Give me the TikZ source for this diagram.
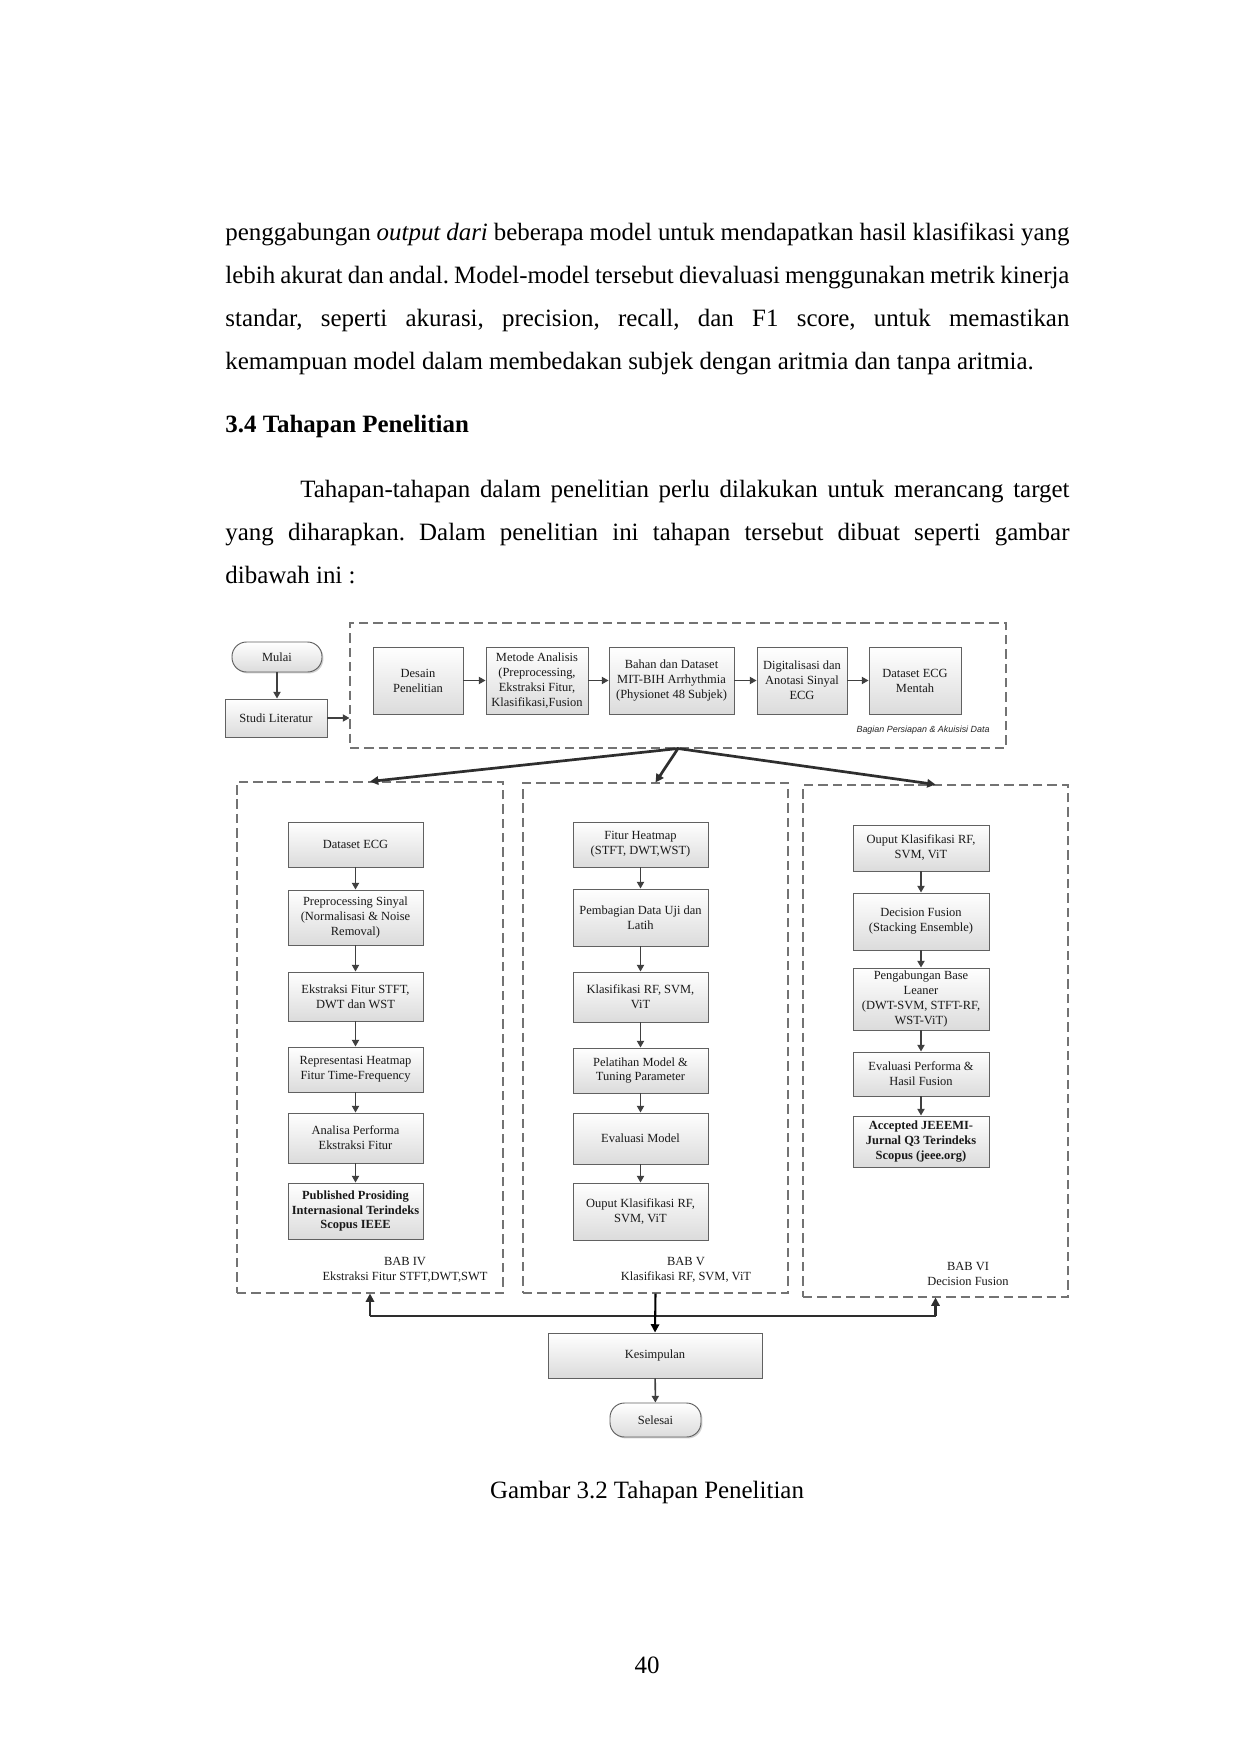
\documentclass[tikz,border=0pt]{standalone}
\usepackage{fontspec}
\setmainfont{Liberation Serif}
\newfontfamily\lblfont{Liberation Sans}
\usetikzlibrary{arrows.meta,shadows}
\frenchspacing
\newdimen\px \px=0.169218mm
\newcommand\pbox[7]{\node[#1, minimum width={(#5-#3)*\px}, minimum height={(#6-#4)*\px}] (#2) at ({(#3+#5)/2},{(#4+#6)/2}) {#7};}
\tikzset{
  stepbox/.style={draw=black!62, line width=0.45pt, top color=white, bottom color=black!14,
    drop shadow={shadow xshift=0.7pt, shadow yshift=-0.7pt, opacity=0.25, fill=black!70},
    align=center, inner sep=1pt, font=\fontsize{6}{7.2}\selectfont, text=black!90},
  termbox/.style={stepbox, rounded corners=7pt},
  cont/.style={draw=black!55, line width=0.5pt, dash pattern=on 4.5pt off 2.4pt, inner sep=0},
  arr/.style={draw=black!75, line width=0.75pt, -{Triangle[length=3.2pt,width=3.4pt]}},
  fan/.style={draw=black!82, line width=1.3pt, -{Triangle[length=4pt,width=4pt]}},
  body/.style={font=\fontsize{12}{14}\selectfont, inner sep=0, anchor=base west},
  lbl/.style={font=\fontsize{6}{7.2}\selectfont, align=center, inner sep=0, text=black!90},
}
\begin{document}
\begin{tikzpicture}[x=0.169218mm, y=-0.169218mm]
\fill[white] (0,0) rectangle (1241,1754);
\useasboundingbox (0,0) rectangle (1241,1754);

% body text
\node[body] (t1) at (225,240.5) {\makebox[844\px][s]{penggabungan \textit{output dari} beberapa model untuk mendapatkan hasil klasifikasi yang}};
\node[body] (t2) at (225,283.5) {\makebox[844\px][s]{lebih akurat dan andal. Model-model tersebut dievaluasi menggunakan metrik kinerja}};
\node[body] (t3) at (225,326.5) {\makebox[844\px][s]{standar, seperti akurasi, precision, recall, dan F1 score, untuk memastikan}};
\node[body] (t4) at (225,369.5) {kemampuan model dalam membedakan subjek dengan aritmia dan tanpa aritmia.};
\node[body] (h1) at (225,433) {\textbf{3.4 Tahapan Penelitian}};
\node[body] (t5) at (300,497) {\makebox[769\px][s]{Tahapan-tahapan dalam penelitian perlu dilakukan untuk merancang target}};
\node[body] (t6) at (225,540) {\makebox[844\px][s]{yang diharapkan. Dalam penelitian ini tahapan tersebut dibuat seperti gambar}};
\node[body] (t7) at (225,583) {dibawah ini :};

% containers
\pbox{cont}{top}{350}{623}{1006}{748}{}
\pbox{cont}{cL}{237}{782}{503}{1293}{}
\pbox{cont}{cM}{523}{783}{788}{1293}{}
\pbox{cont}{cR}{803}{785}{1068}{1297}{}

% top row
\pbox{termbox}{mulai}{232}{642}{322}{672}{Mulai}
\pbox{stepbox}{studi}{225}{699}{327}{737}{Studi Literatur}
\pbox{stepbox}{desain}{373}{647}{463}{714}{Desain\\Penelitian}
\pbox{stepbox}{metode}{486}{647}{588}{714}{Metode Analisis\\(Preprocessing,\\Ekstraksi Fitur,\\Klasifikasi,Fusion}
\pbox{stepbox}{bahan}{609}{647}{734}{714}{Bahan dan Dataset\\MIT-BIH Arrhythmia\\(Physionet 48 Subjek)}
\pbox{stepbox}{digital}{757}{647}{847}{714}{Digitalisasi dan\\Anotasi Sinyal\\ECG}
\pbox{stepbox}{mentah}{869}{647}{961}{714}{Dataset ECG\\Mentah}
\node[anchor=base east, inner sep=0, font=\lblfont\fontsize{4.3}{5}\selectfont\itshape, text=black!85] (bagian) at (990,732) {Bagian Persiapan \& Akuisisi Data};

\draw[arr] (mulai.south) -- (mulai.south |- studi.north);
\draw[arr] (studi.east) -- (studi.east -| top.west);
\draw[arr] (desain) -- (metode);
\draw[arr] (metode) -- (bahan);
\draw[arr] (bahan) -- (digital);
\draw[arr] (digital) -- (mentah);

% fan-out
\draw[fan] (top.south) -- (cL.north);
\draw[fan] (top.south) -- (cM.north);
\draw[fan] (top.south) -- (cR.north);

% left column
\pbox{stepbox}{L1}{288}{822}{423}{867}{Dataset ECG}
\pbox{stepbox}{L2}{288}{890}{423}{945}{Preprocessing Sinyal\\(Normalisasi \& Noise\\Removal)}
\pbox{stepbox}{L3}{288}{972}{423}{1021}{Ekstraksi Fitur STFT,\\DWT dan WST}
\pbox{stepbox}{L4}{288}{1047}{423}{1092}{Representasi Heatmap\\Fitur Time-Frequency}
\pbox{stepbox}{L5}{288}{1113}{423}{1163}{Analisa Performa\\Ekstraksi Fitur}
\pbox{stepbox}{L6}{288}{1183}{423}{1239}{\textbf{Published Prosiding}\\\textbf{Internasional Terindeks}\\\textbf{Scopus IEEE}}
\foreach \a/\b in {L1/L2,L2/L3,L3/L4,L4/L5,L5/L6} \draw[arr] (\a) -- (\b);
\node[lbl] (babL) at (405,1270) {BAB IV\\Ekstraksi Fitur STFT,DWT,SWT};

% middle column
\pbox{stepbox}{M1}{573}{822}{708}{867}{Fitur Heatmap\\(STFT, DWT,WST)}
\pbox{stepbox}{M2}{573}{889}{708}{946}{Pembagian Data Uji dan\\Latih}
\pbox{stepbox}{M3}{573}{972}{708}{1022}{Klasifikasi RF, SVM,\\ViT}
\pbox{stepbox}{M4}{573}{1048}{708}{1093}{Pelatihan Model \&\\Tuning Parameter}
\pbox{stepbox}{M5}{573}{1113}{708}{1164}{Evaluasi Model}
\pbox{stepbox}{M6}{573}{1183}{708}{1240}{Ouput Klasifikasi RF,\\SVM, ViT}
\foreach \a/\b in {M1/M2,M2/M3,M3/M4,M4/M5,M5/M6} \draw[arr] (\a) -- (\b);
\node[lbl] (babM) at (686,1270) {BAB V\\Klasifikasi RF, SVM, ViT};

% right column
\pbox{stepbox}{R1}{853}{825}{989}{871}{Ouput Klasifikasi RF,\\SVM, ViT}
\pbox{stepbox}{R2}{853}{893}{989}{950}{Decision Fusion\\(Stacking Ensemble)}
\pbox{stepbox}{R3}{853}{968}{989}{1030}{Pengabungan Base\\Leaner\\(DWT-SVM, STFT-RF,\\WST-ViT)}
\pbox{stepbox}{R4}{853}{1052}{989}{1096}{Evaluasi Performa \&\\Hasil Fusion}
\pbox{stepbox}{R5}{853}{1116}{989}{1167}{\textbf{Accepted JEEEMI-}\\\textbf{Jurnal Q3 Terindeks}\\\textbf{Scopus (jeee.org)}}
\foreach \a/\b in {R1/R2,R2/R3,R3/R4,R4/R5} \draw[arr] (\a) -- (\b);
\node[lbl] (babR) at (968,1274) {BAB VI\\Decision Fusion};

% bottom
\pbox{stepbox}{kes}{548}{1333}{762}{1378}{Kesimpulan}
\pbox{termbox}{selesai}{610}{1403}{701}{1437}{Selesai}
\coordinate (busy) at (0,1316);
\draw[line width=1.3pt, draw=black!82] (cL.south |- busy) -- (cR.south |- busy);
\draw[fan] (cL.south |- busy) -- (cL.south);
\draw[fan] (cR.south |- busy) -- (cR.south);
\draw[fan, line width=1pt, draw=black] (cM.south) -- (kes.north);
\draw[arr] (kes) -- (selesai);

% caption and page number
\node[body, anchor=base] (cap) at (647,1498) {Gambar 3.2 Tahapan Penelitian};
\node[body, anchor=base] (pg) at (647,1673) {40};
\end{tikzpicture}
\end{document}
